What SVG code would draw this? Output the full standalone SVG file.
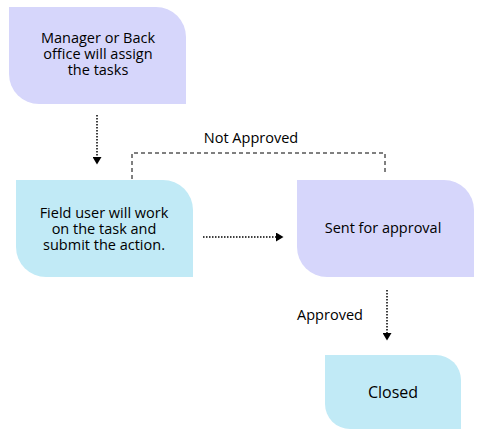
<svg xmlns="http://www.w3.org/2000/svg" width="480" height="437" viewBox="0 0 480 437">
<defs>
<style>
.t{font-family:"Open Sans","Noto Sans","DejaVu Sans",sans-serif;font-size:14.5px;font-weight:500;fill:#000;text-anchor:middle}
.lav{fill:#d6d6fb}
.cy{fill:#c1eaf6}
.dot{stroke:#000;stroke-width:1.5;stroke-dasharray:1.5 1.5;fill:none}
.dash{stroke:#000;stroke-width:1;stroke-dasharray:4 3;fill:none}
</style>
<marker id="ah" markerWidth="9" markerHeight="9" refX="0" refY="4.5" orient="auto" markerUnits="userSpaceOnUse">
<path d="M0,0 L7.5,4.5 L0,9 Z" fill="#000"/>
</marker>
</defs>
<g id="node-assign">
<path class="lav" d="M9,7 H156 A30,30 0 0 1 186,37 V104 H39 A30,30 0 0 1 9,74 Z"/>
<text class="t" x="98" y="43">Manager or Back</text>
<text class="t" x="98" y="59">office will assign</text>
<text class="t" x="98" y="75">the tasks</text>
</g>
<g id="node-field">
<path class="cy" d="M16,180 H163 A30,30 0 0 1 193,210 V277 H46 A30,30 0 0 1 16,247 Z"/>
<text class="t" x="104" y="218">Field user will work</text>
<text class="t" x="104" y="234">on the task and</text>
<text class="t" x="104" y="250">submit the action.</text>
</g>
<g id="node-approval">
<path class="lav" d="M297,180 H444 A30,30 0 0 1 474,210 V277 H327 A30,30 0 0 1 297,247 Z"/>
<text class="t" x="383" y="233">Sent for approval</text>
</g>
<g id="node-closed">
<path class="cy" d="M325,355 H436 A25,25 0 0 1 461,380 V429 H350 A25,25 0 0 1 325,404 Z"/>
<text class="t" x="393" y="398" style="font-size:16px">Closed</text>
</g>
<g id="connectors">
<path class="dot" d="M97,115 V157" marker-end="url(#ah)"/>
<path class="dot" d="M203,237 H276" marker-end="url(#ah)"/>
<path class="dot" d="M387,290 V333" marker-end="url(#ah)"/>
<path class="dash" d="M132,179 V153 H385 V173"/>
<text class="t" x="251" y="143">Not Approved</text>
<text class="t" x="330" y="320">Approved</text>
</g>
</svg>
